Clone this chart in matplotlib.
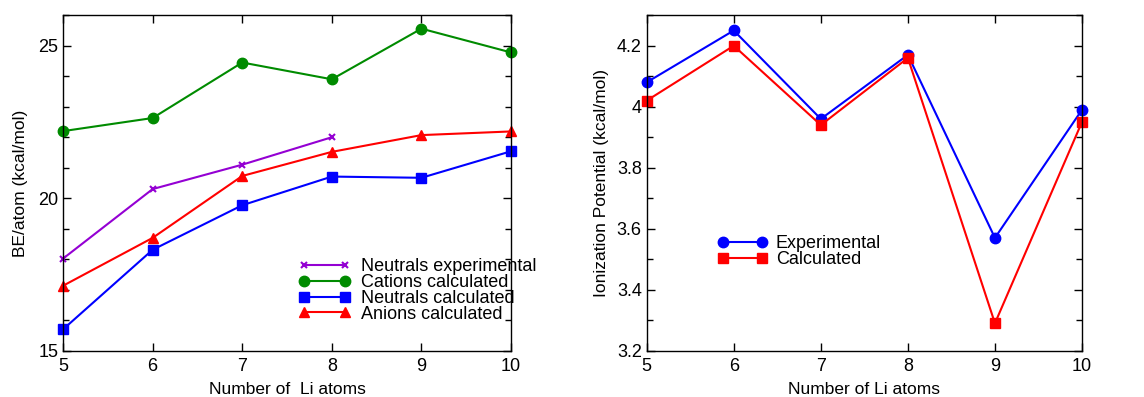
import matplotlib
matplotlib.use('Agg')
import matplotlib.pyplot as plt
from matplotlib.ticker import MultipleLocator, FormatStrFormatter

plt.rcParams['font.family'] = ['Liberation Sans', 'DejaVu Sans']

# Left panel: binding energy per atom
n_atoms = [5, 6, 7, 8, 9, 10]
n_atoms_exp = [5, 6, 7, 8]
neutrals_exp = [18.02, 20.3, 21.1, 22.0]
cations_calc = [22.2, 22.63, 24.45, 23.9, 25.56, 24.78]
neutrals_calc = [15.7, 18.31, 19.77, 20.71, 20.67, 21.54]
anions_calc = [17.13, 18.7, 20.73, 21.52, 22.07, 22.19]

# Right panel: ionization potential
ip_exp = [4.08, 4.25, 3.96, 4.17, 3.57, 3.99]
ip_calc = [4.02, 4.20, 3.94, 4.16, 3.29, 3.95]

PURPLE = '#9400d3'
GREEN = '#008b00'
BLUE = '#0000ff'
RED = '#ff0000'

fig = plt.figure(figsize=(11.44, 3.97), dpi=100)
ax1 = fig.add_axes([0.0551, 0.1166, 0.3916, 0.845])
ax2 = fig.add_axes([0.5653, 0.1166, 0.3805, 0.845])

lw = 1.5
ax1.plot(n_atoms_exp, neutrals_exp, color=PURPLE, lw=lw, marker='x', ms=5, mew=1.5,
         label='Neutrals experimental')
ax1.plot(n_atoms, cations_calc, color=GREEN, lw=lw, marker='o', ms=7.5,
         label='Cations calculated')
ax1.plot(n_atoms, neutrals_calc, color=BLUE, lw=lw, marker='s', ms=6.5,
         label='Neutrals calculated')
ax1.plot(n_atoms, anions_calc, color=RED, lw=lw, marker='^', ms=7,
         label='Anions calculated')
ax1.set_xlim(5, 10)
ax1.set_ylim(15, 26)
ax1.yaxis.set_major_locator(MultipleLocator(5))
ax1.yaxis.set_minor_locator(MultipleLocator(1))
ax1.set_xlabel('Number of  Li atoms', fontsize=12.5, labelpad=5)
ax1.set_ylabel('BE/atom (kcal/mol)', fontsize=12.5, labelpad=7)
ax1.legend(loc='upper left', bbox_to_anchor=(0.525, 0.275), frameon=False, fontsize=13,
           numpoints=2, labelspacing=-0.07, handlelength=2.9, handletextpad=0.6,
           borderpad=0, borderaxespad=0)

ax2.plot(n_atoms, ip_exp, color=BLUE, lw=lw, marker='o', ms=7.5, label='Experimental')
ax2.plot(n_atoms, ip_calc, color=RED, lw=lw, marker='s', ms=6.5, label='Calculated')
ax2.set_xlim(5, 10)
ax2.set_ylim(3.2, 4.3)
ax2.yaxis.set_major_locator(MultipleLocator(0.2))
ax2.yaxis.set_minor_locator(MultipleLocator(0.1))
ax2.yaxis.set_major_formatter(FormatStrFormatter('%g'))
ax2.set_xlabel('Number of Li atoms', fontsize=12.5, labelpad=5)
ax2.set_ylabel('Ionization Potential (kcal/mol)', fontsize=12.5, labelpad=6)
ax2.legend(loc='upper left', bbox_to_anchor=(0.162, 0.345), frameon=False, fontsize=13,
           numpoints=2, labelspacing=-0.05, handlelength=2.8, handletextpad=0.45,
           borderpad=0, borderaxespad=0)

for ax in (ax1, ax2):
    ax.xaxis.set_major_locator(MultipleLocator(1))
    ax.tick_params(which='both', direction='in', top=True, right=True, labelsize=13)
    ax.tick_params(which='major', length=6, width=1)
    ax.tick_params(which='minor', length=4, width=1)
    ax.tick_params(axis='x', pad=5)
    for s in ax.spines.values():
        s.set_linewidth(1)
    for m in ax.get_lines():
        m.set_clip_on(False)

fig.savefig('out.png', dpi=100)
